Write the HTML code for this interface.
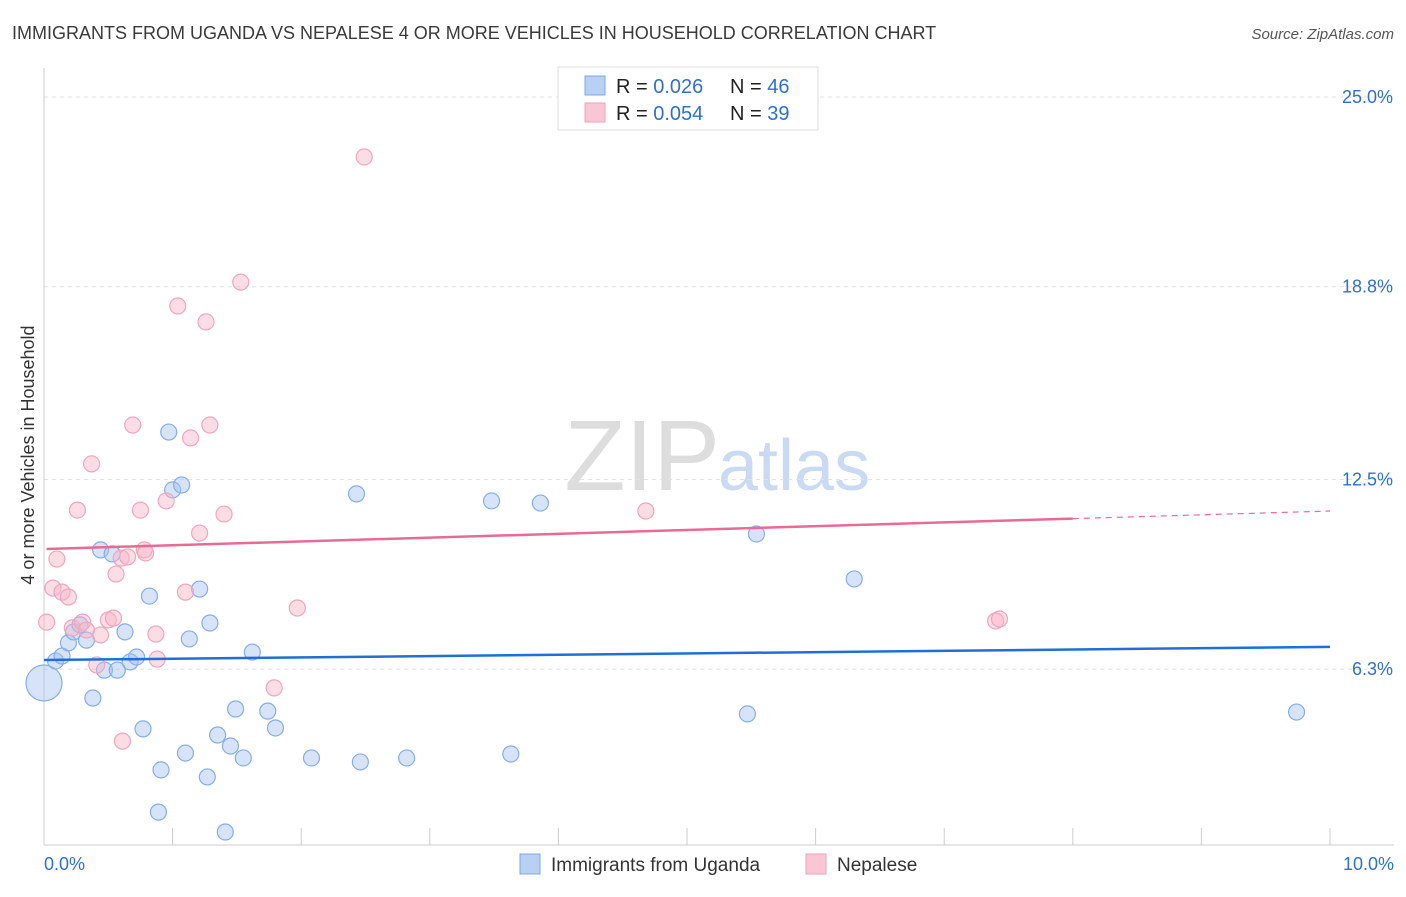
<!DOCTYPE html>
<html><head><meta charset="utf-8"><style>
body{margin:0;background:#fff;font-family:"Liberation Sans",sans-serif;}
svg text{font-family:"Liberation Sans",sans-serif;}
</style></head><body>
<svg id="chart" width="1406" height="892">
<text x="12" y="39" font-size="18" fill="#3a3a3a">IMMIGRANTS FROM UGANDA VS NEPALESE 4 OR MORE VEHICLES IN HOUSEHOLD CORRELATION CHART</text>
<text x="1394" y="39" font-size="15" fill="#555" text-anchor="end" font-style="italic">Source: ZipAtlas.com</text>
<text x="720" y="490" font-size="100" fill="#ddd" text-anchor="end" font-family="Liberation Serif">ZIP</text>
<text x="718" y="490" font-size="72" fill="#c9daf2">atlas</text>
<text x="34" y="455" font-size="18" fill="#333" text-anchor="middle" transform="rotate(-90 34 455)">4 or more Vehicles in Household</text>
<g id="grid"></g><g id="marks"></g>
<g>
<rect x="558" y="67" width="260" height="63" fill="#fff" stroke="#ddd"/>
<rect x="585" y="76" width="20" height="19" fill="#b7d0f4" stroke="#7fa8e0"/>
<rect x="585" y="103" width="20" height="19" fill="#f9c6d5" stroke="#f0a0b8"/>
<text x="616" y="93" font-size="20" fill="#222">R = <tspan fill="#2f6fd0">0.026</tspan><tspan x="730">N = </tspan><tspan fill="#2f6fd0">46</tspan></text>
<text x="616" y="120" font-size="20" fill="#222">R = <tspan fill="#2f6fd0">0.054</tspan><tspan x="730">N = </tspan><tspan fill="#2f6fd0">39</tspan></text>
</g>
<g>
<rect x="520" y="854" width="20" height="20" fill="#b7d0f4" stroke="#7fa8e0"/>
<text x="551" y="871" font-size="19" fill="#333">Immigrants from Uganda</text>
<rect x="806" y="854" width="20" height="20" fill="#f9c6d5" stroke="#f0a0b8"/>
<text x="837" y="871" font-size="19" fill="#333">Nepalese</text>
</g>
</svg>
<script>
const yTicks=[6.3,12.5,18.8,25.0];
const xTickLabels=["0.0%","10.0%"];
const ugandaX=[0,0.09,0.14,0.19,0.23,0.28,0.33,0.38,0.44,0.47,0.53,0.57,0.63,0.67,0.72,0.77,0.82,0.89,0.91,0.97,1.00,1.07,1.10,1.13,1.21,1.27,1.29,1.35,1.45,1.49,1.55,1.62,1.74,1.80,2.08,2.43,2.46,2.82,3.48,3.63,3.86,1.41,5.47,5.54,6.30,9.74];
const ugandaY=[5.85,6.57,6.73,7.16,7.52,7.75,7.25,5.36,10.20,6.27,10.07,6.27,7.52,6.54,6.70,4.35,8.69,1.63,3.01,14.05,12.16,12.32,3.56,7.29,8.92,2.78,7.81,4.15,3.79,5.00,3.40,6.86,4.93,4.38,3.40,12.03,3.27,3.40,11.80,3.53,11.73,0.98,4.84,10.72,9.25,4.90];
const nepalX=[0.02,0.07,0.10,0.14,0.19,0.22,0.26,0.30,0.33,0.37,0.41,0.44,0.50,0.54,0.56,0.60,0.65,0.69,0.75,0.78,0.79,0.87,0.88,0.95,1.04,1.10,1.14,1.21,1.26,1.29,1.40,1.53,1.79,1.97,2.49,4.68,7.40,7.43,0.61];
const nepalY=[7.84,8.95,9.90,8.82,8.66,7.65,11.50,7.84,7.58,13.01,6.44,7.42,7.91,7.97,9.41,9.93,9.97,14.28,11.50,10.20,10.10,7.45,6.63,11.80,18.17,8.82,13.86,10.75,17.65,14.28,11.37,18.95,5.69,8.30,23.04,11.47,7.88,7.94,3.95];
const ugandaTrend=[6.60,7.03];
const nepalTrend=[10.23,11.47];
const nepalTrendSolidEnd=8.0;

const NS="http://www.w3.org/2000/svg";
const xs=v=>44+v*128.6, ys=v=>862-v*30.6;
function mk(tag,attrs,parent){const e=document.createElementNS(NS,tag);for(const k in attrs)e.setAttribute(k,attrs[k]);parent.appendChild(e);return e;}
const grid=document.getElementById('grid'), marks=document.getElementById('marks');
yTicks.forEach(t=>{
 const l=mk('line',{x1:44,x2:1394,y1:ys(t),y2:ys(t),stroke:'#e2e2e2','stroke-dasharray':'4 4'},grid);
 
 
 const tx=mk('text',{x:1393,y:ys(t)+6,'font-size':18,fill:'#2f6fd0','text-anchor':'end'},grid);
 tx.textContent=t.toFixed(1)+'%';
 
 
});
const ax=mk('line',{x1:44,x2:44,y1:68,y2:845,stroke:'#ccc'},grid);


const bx=mk('line',{x1:44,x2:1394,y1:845,y2:845,stroke:'#ccc'},grid);


for(let i=0;i<=10;i++){const t=mk('line',{x1:xs(i),x2:xs(i),y1:828,y2:845,stroke:'#ccc'},grid);
 
 }
[[0,'start',44],[10,'end',1394]].forEach(([v,a,x],i)=>{const t=mk('text',{x:x,y:870,'font-size':18,fill:'#2f6fd0','text-anchor':a},grid);t.textContent=xTickLabels[i];
 
 });
ugandaX.forEach((x,i)=>{const c=mk('circle',{cx:xs(x),cy:ys(ugandaY[i]),r:i===0?18:8,fill:'rgba(164,194,240,0.45)',stroke:'#86aee6','stroke-width':1.2},marks);
 
 });
nepalX.forEach((x,i)=>{const c=mk('circle',{cx:xs(x),cy:ys(nepalY[i]),r:8,fill:'rgba(248,180,200,0.45)',stroke:'#f0a6bd','stroke-width':1.2},marks);
 
 });
const bl=mk('line',{x1:xs(0),y1:ys(ugandaTrend[0]),x2:xs(10),y2:ys(ugandaTrend[1]),stroke:'#1f6fd6','stroke-width':2.5},marks);


const pe=nepalTrend[0]+(nepalTrend[1]-nepalTrend[0])*nepalTrendSolidEnd/10;
const pl=mk('line',{x1:xs(0.02),y1:ys(nepalTrend[0]),x2:xs(nepalTrendSolidEnd),y2:ys(pe),stroke:'#e86b94','stroke-width':2.5},marks);


const pd=mk('line',{x1:xs(nepalTrendSolidEnd),y1:ys(pe),x2:xs(10),y2:ys(nepalTrend[1]),stroke:'#e86b94','stroke-width':1.2,'stroke-dasharray':'6 5'},marks);


</script>
</body></html>
